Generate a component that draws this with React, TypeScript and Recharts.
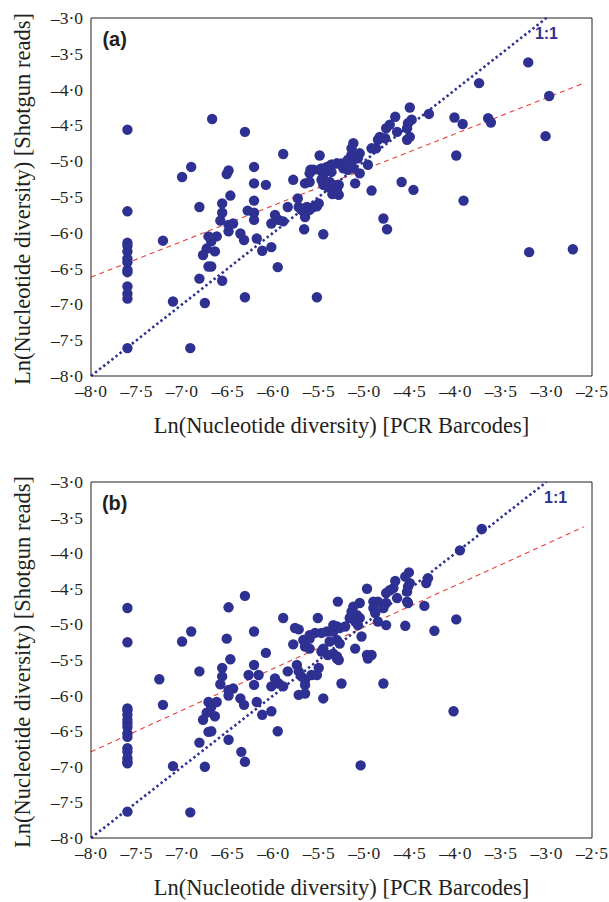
import React from 'react';
import { ScatterChart, Scatter, XAxis, YAxis, ReferenceLine, ReferenceDot } from 'recharts';

const xTicks = [-8, -7.5, -7, -6.5, -6, -5.5, -5, -4.5, -4, -3.5, -3, -2.5];
const yTicks = [-8, -7.5, -7, -6.5, -6, -5.5, -5, -4.5, -4, -3.5, -3];
const xTitle = 'Ln(Nucleotide diversity) [PCR Barcodes]';
const yTitle = 'Ln(Nucleotide diversity) [Shotgun reads]';

// Panel (a)
const barcodesA = [
  -7.6, -7.6, -7.6, -7.6, -7.6, -7.6, -7.6, -7.6, -7.6, -7.6, -7.6, -7.6, -7.6,
  -7.21, -7.1, -7.0, -6.9, -6.91, -6.81, -6.81, -6.75, -6.73, -6.77, -6.71, -6.68, -6.62, -6.64, -6.68, -6.71,
  -6.67, -6.56, -6.56, -6.58, -6.56, -6.49, -6.51, -6.47, -6.49, -6.49, -6.44, -6.36, -6.32, -6.31, -6.31, -6.28,
  -6.21, -6.21, -6.21, -6.21, -6.21, -6.18, -6.12, -6.08, -6.02, -6.02, -5.98, -5.94, -5.89, -5.95, -5.89, -5.84,
  -5.78, -5.73, -5.72, -5.69, -5.65, -5.65, -5.63, -5.56, -5.52, -5.5, -5.6, -5.66, -5.65, -5.6,
  -5.59, -5.6, -5.56, -5.52, -5.49, -5.49, -5.47, -5.45, -5.47, -5.45, -5.45, -5.41, -5.4, -5.38, -5.36, -5.36,
  -5.35, -5.34, -5.3, -5.28, -5.28, -5.3, -5.25, -5.21, -5.23, -5.18, -5.12, -5.18, -5.12, -5.07, -5.14, -5.08,
  -5.05, -5.12, -5.14, -5.1, -5.05, -4.96, -4.92, -4.92, -4.87, -4.66, -4.76, -4.72, -4.64, -4.52, -4.53, -4.48,
  -4.53, -4.5, -4.83, -4.85, -4.77, -4.5, -4.29, -4.01, -3.92, -3.64, -3.61, -3.74, -3.2, -2.97, -3.01, -3.99,
  -3.91, -4.59, -4.46, -4.79, -4.75, -3.19, -2.71, -5.36, -5.3,
];
const shotgunA = [
  -4.56, -5.7, -6.14, -6.18, -6.26, -6.36, -6.41, -6.52, -6.55, -6.75, -6.85, -6.92, -7.61,
  -6.11, -6.96, -5.22, -5.08, -7.61, -5.64, -6.64, -6.98, -6.22, -6.31, -6.05, -6.12, -6.05, -6.26, -6.47, -6.47,
  -4.41, -5.59, -5.72, -5.83, -6.67, -5.13, -5.18, -5.48, -5.89, -5.98, -5.87, -6.01, -6.1, -4.59, -6.9, -5.69,
  -5.08, -5.31, -5.55, -5.72, -5.82, -6.08, -6.25, -5.33, -6.2, -5.87, -5.75, -5.82, -5.84, -6.48, -4.9, -5.64,
  -5.26, -5.52, -5.64, -5.68, -5.74, -5.78, -5.64, -5.64, -5.63, -5.59, -5.68, -5.95, -5.31, -5.29,
  -5.12, -5.17, -5.12, -6.9, -4.92, -5.12, -5.1, -5.19, -5.26, -5.33, -6.02, -5.08, -5.36, -5.29, -5.05, -5.15,
  -5.46, -5.33, -5.4, -5.33, -5.47, -5.03, -5.03, -5.05, -5.1, -5.12, -5.1, -4.98, -4.98, -4.96, -4.91, -4.94,
  -4.89, -4.75, -4.82, -5.31, -5.17, -5.05, -5.41, -4.82, -4.82, -4.38, -4.54, -4.49, -4.59, -4.47, -4.54, -4.42,
  -4.7, -4.66, -4.66, -4.7, -4.68, -4.25, -4.34, -4.39, -4.48, -4.4, -4.46, -3.91, -3.62, -4.09, -4.65, -4.92,
  -5.55, -5.29, -5.4, -5.8, -5.95, -6.27, -6.23, -5.05, -5.03,
];
const fitXA = [-8, -2.59];
const fitYA = [-6.62, -3.91];

// Panel (b)
const barcodesB = [
  -7.6, -7.6, -7.6, -7.6, -7.6, -7.6, -7.6, -7.6, -7.6, -7.6, -7.6, -7.6, -7.6, -7.6, -7.6, -7.6,
  -7.25, -7.21, -7.1, -7.0, -6.9, -6.91, -6.81, -6.81, -6.75, -6.73, -6.77, -6.71, -6.68, -6.62, -6.64, -6.68, -6.71,
  -6.56, -6.56, -6.58, -6.49, -6.51, -6.47, -6.49, -6.49, -6.44, -6.49, -6.36, -6.32, -6.35, -6.31, -6.31, -6.27,
  -6.21, -6.21, -6.16, -6.21, -6.18, -6.12, -6.08, -6.02, -6.02, -5.98, -5.94, -5.89, -5.95, -5.89, -5.84,
  -5.78, -5.76, -5.72, -5.74, -5.72, -5.69, -5.65, -5.65, -5.72, -5.65, -5.58, -5.52, -5.5, -5.65, -5.6, -5.67,
  -5.6, -5.6, -5.54, -5.47, -5.41, -5.34, -5.34, -5.3, -5.27, -5.21, -5.51, -5.29, -5.45, -5.47, -5.4, -5.34,
  -5.3, -5.38, -5.3, -5.27, -5.28, -5.25, -5.45, -5.3, -5.1, -5.03, -5.05, -5.12, -5.14, -5.08, -5.05, -5.16,
  -5.1, -5.07, -4.97, -4.97, -4.92, -4.96, -5.04, -4.79, -4.9, -4.85, -4.76, -4.79, -4.9, -4.88, -4.85, -4.76,
  -4.66, -4.76, -4.72, -4.68, -4.52, -4.53, -4.5, -4.55, -4.51, -4.53, -4.52, -4.64, -4.55, -4.34, -4.3, -4.32,
  -3.95, -3.71, -3.99, -4.23, -4.02,
];
const shotgunB = [
  -4.77, -5.25, -6.18, -6.21, -6.27, -6.34, -6.39, -6.44, -6.53, -6.58, -6.74, -6.79, -6.88, -6.93, -6.95, -7.63,
  -5.77, -6.13, -6.99, -5.24, -5.1, -7.64, -5.66, -6.66, -7.0, -6.24, -6.34, -6.09, -6.16, -6.09, -6.29, -6.5, -6.51,
  -5.61, -5.73, -5.84, -4.76, -5.2, -5.49, -5.92, -6.0, -5.9, -6.62, -6.04, -6.13, -6.79, -6.93, -4.6, -5.71,
  -5.1, -5.57, -5.71, -5.85, -6.09, -6.27, -5.4, -6.22, -5.87, -5.76, -5.83, -5.87, -6.5, -4.91, -5.66,
  -5.28, -5.05, -5.07, -5.57, -5.66, -5.73, -5.78, -5.85, -5.99, -5.97, -5.71, -5.71, -5.61, -5.31, -5.34, -5.22,
  -5.15, -5.2, -5.12, -5.12, -5.1, -5.1, -5.01, -5.03, -5.05, -5.03, -4.91, -4.68, -5.34, -5.38, -5.43, -5.41,
  -5.45, -5.24, -5.22, -5.27, -5.5, -5.83, -6.04, -5.48, -5.34, -5.17, -4.7, -4.75, -4.82, -4.87, -4.91, -4.91,
  -4.96, -5.01, -4.5, -5.43, -5.43, -5.48, -6.98, -5.83, -4.68, -4.68, -4.7, -4.77, -4.77, -4.84, -4.96, -5.01,
  -4.39, -4.56, -4.52, -4.49, -4.47, -4.54, -4.42, -4.33, -4.27, -4.68, -4.7, -4.63, -5.02, -4.74, -4.35, -4.42,
  -3.96, -3.66, -4.93, -5.09, -6.22,
];
const fitXB = [-8, -2.59];
const fitYB = [-6.79, -3.63];

const oneToOne = [-8, -3];

const INK = '#231f20';
const DOT = '#2e3192';
const SERIF = '"Liberation Serif", "Times New Roman", serif';
const SANS = '"Liberation Sans", Arial, sans-serif';

const fmt = (v: number) => (v < 0 ? '\u2013' : '') + Math.abs(v).toFixed(1).replace('.', '\u00b7');

const Dot = (p: any) => <circle cx={p.cx} cy={p.cy} r={5.2} fill={DOT} />;

const tickTextStyle: React.CSSProperties = { fontSize: '17.5px', fontFamily: SERIF, fill: INK };

type PanelProps = {
  xs: number[];
  ys: number[];
  fitX: number[];
  fitY: number[];
  tag: string;
  tagPos: number[];
  onePos: number[];
  top: number;
  bottom: number;
};

function Panel({ xs, ys, fitX, fitY, tag, tagPos, onePos, top, bottom }: PanelProps) {
  const data = xs.map((x, i) => ({ x, y: ys[i] }));
  return (
    <ScatterChart width={609} height={451} margin={{ top, right: 17, bottom, left: 0 }}>
      <XAxis
        type="number"
        dataKey="x"
        domain={[-8, -2.5]}
        ticks={xTicks}
        allowDataOverflow
        height={60}
        stroke={INK}
        tickSize={5}
        tick={false}
        label={{
          content: (p: any) => {
            const vb = p.viewBox;
            return (
              <text x={vb.x + vb.width / 2} y={vb.y + 49} textAnchor="middle" dominantBaseline="central"
                style={{ fontSize: '22.5px', fontFamily: SERIF, fill: INK }}>{xTitle}</text>
            );
          },
        }}
      />
      <YAxis
        type="number"
        dataKey="y"
        domain={[-8, -3]}
        ticks={yTicks}
        allowDataOverflow
        width={91}
        stroke={INK}
        tickSize={5}
        tick={false}
        label={{
          content: (p: any) => {
            const vb = p.viewBox;
            const cy = vb.y + vb.height / 2 + 2;
            return (
              <text x={22} y={cy} transform={`rotate(-90, 22, ${cy})`} textAnchor="middle" dominantBaseline="central"
                style={{ fontSize: '22.5px', fontFamily: SERIF, fill: INK }}>{yTitle}</text>
            );
          },
        }}
      />
      <ReferenceLine x={-2.5} stroke={INK} />
      <ReferenceLine y={-3} stroke={INK} />
      <ReferenceLine
        segment={[{ x: fitX[0], y: fitY[0] }, { x: fitX[1], y: fitY[1] }]}
        stroke="#e8413c"
        strokeWidth={1.1}
        strokeDasharray="5 4"
      />
      <ReferenceLine
        segment={[{ x: oneToOne[0], y: oneToOne[0] }, { x: oneToOne[1], y: oneToOne[1] }]}
        stroke={DOT}
        strokeWidth={2.6}
        strokeDasharray="2.4 2.8"
      />
      <Scatter data={data} fill={DOT} isAnimationActive={false} shape={Dot} />
      {xTicks.map((v) => (
        <ReferenceDot
          key={'xt' + v}
          x={v}
          y={-8}
          r={0}
          ifOverflow="visible"
          shape={(p: any) => (
            <text x={p.cx} y={p.cy + 8} dy="0.72em" textAnchor="middle" style={tickTextStyle}>{fmt(v)}</text>
          )}
        />
      ))}
      {yTicks.map((v) => (
        <ReferenceDot
          key={'yt' + v}
          x={-8}
          y={v}
          r={0}
          ifOverflow="visible"
          shape={(p: any) => (
            <text x={p.cx - 8} y={p.cy} dy="0.34em" textAnchor="end" style={tickTextStyle}>{fmt(v)}</text>
          )}
        />
      ))}
      <ReferenceDot
        x={tagPos[0]}
        y={tagPos[1]}
        r={0}
        shape={(p: any) => (
          <text x={p.cx} y={p.cy} textAnchor="middle" dominantBaseline="central"
            style={{ fontSize: '20px', fontWeight: 'bold', fontFamily: SANS, fill: INK }}>{tag}</text>
        )}
      />
      <ReferenceDot
        x={onePos[0]}
        y={onePos[1]}
        r={0}
        shape={(p: any) => (
          <text x={p.cx} y={p.cy} textAnchor="middle" dominantBaseline="central"
            style={{ fontSize: '16px', fontWeight: 'bold', fontFamily: SANS, fill: DOT }}>1:1</text>
        )}
      />
    </ScatterChart>
  );
}

export default function App() {
  return (
    <div style={{ position: 'absolute', left: 0, top: 0, width: 609, height: 902, background: '#fff' }}>
      <Panel xs={barcodesA} ys={shotgunA} fitX={fitXA} fitY={fitYA} tag="(a)" tagPos={[-7.74, -3.29]}
        onePos={[-3.0, -3.22]} top={18} bottom={15} />
      <Panel xs={barcodesB} ys={shotgunB} fitX={fitXB} fitY={fitYB} tag="(b)" tagPos={[-7.74, -3.29]}
        onePos={[-2.9, -3.22]} top={31} bottom={4} />
    </div>
  );
}
